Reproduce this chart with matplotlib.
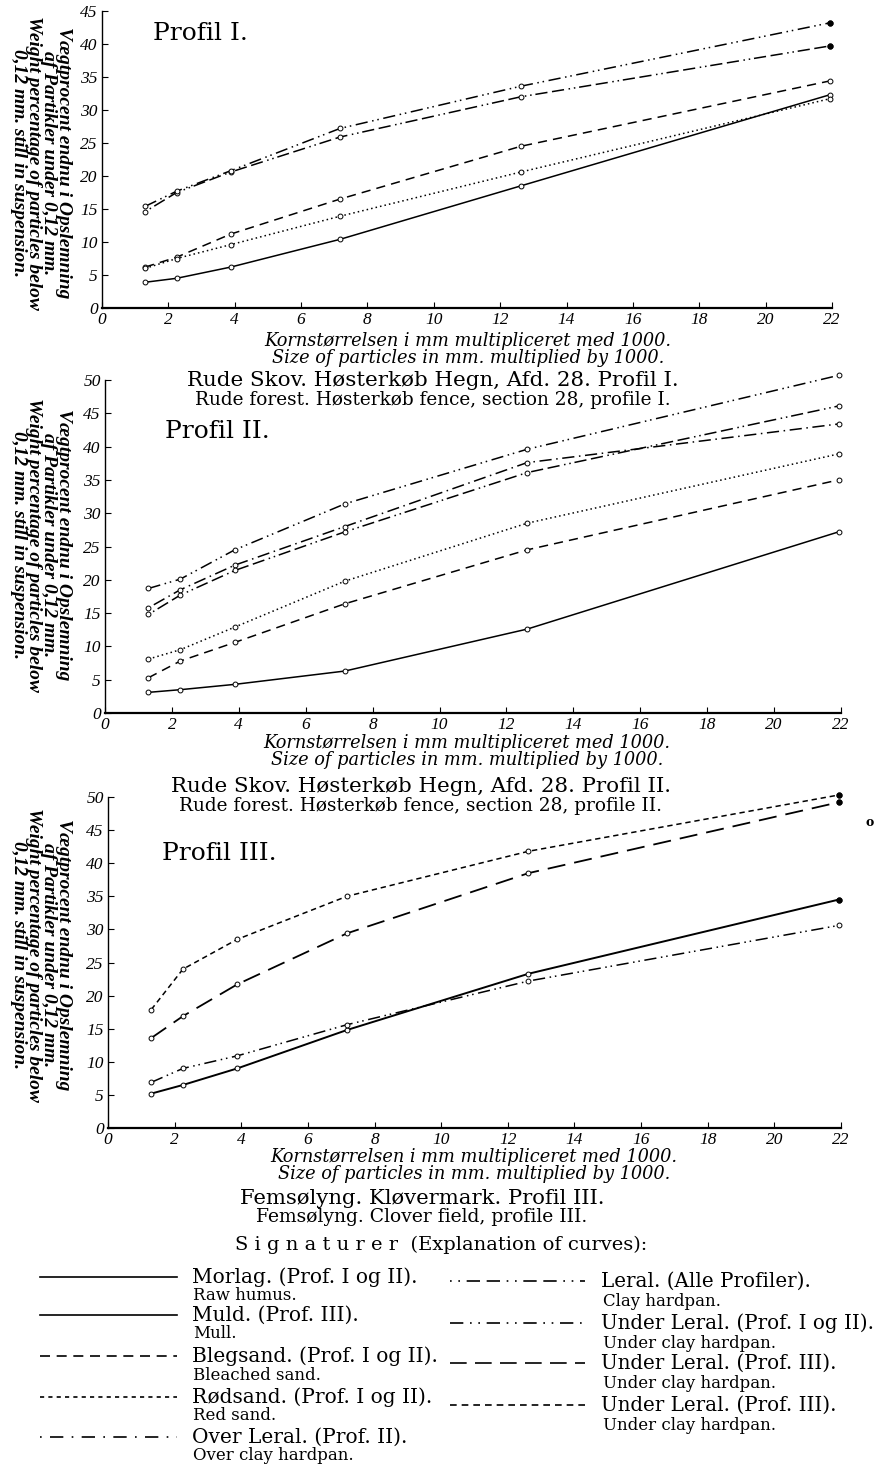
import matplotlib
matplotlib.use('Agg')
import matplotlib.pyplot as plt

plt.rcParams['font.family'] = ['DejaVu Serif']

# kornstørrelse (mm * 1000), same for all profiles
korn = [1.3, 2.25, 3.88, 7.17, 12.62, 21.93]

# Profil I
p1_morlag = [3.9, 4.5, 6.2, 10.4, 18.5, 32.3]
p1_blegsand = [6.2, 7.7, 11.2, 16.5, 24.5, 34.4]
p1_rodsand = [6.0, 7.5, 9.6, 13.9, 20.6, 31.7]
p1_leral = [14.6, 17.5, 20.6, 25.9, 32.0, 39.7]
p1_underleral = [15.4, 17.7, 20.8, 27.2, 33.6, 43.2]

# Profil II
p2_morlag = [3.1, 3.5, 4.3, 6.3, 12.6, 27.2]
p2_blegsand = [5.3, 7.8, 10.6, 16.4, 24.5, 35.0]
p2_rodsand = [8.1, 9.5, 12.9, 19.8, 28.5, 38.9]
p2_overleral = [15.8, 18.5, 22.2, 28.0, 37.6, 43.4]
p2_leral = [14.8, 17.7, 21.4, 27.2, 36.1, 46.1]
p2_underleral = [18.7, 20.1, 24.5, 31.4, 39.6, 50.7]

# Profil III
p3_muld = [5.2, 6.5, 9.0, 14.8, 23.3, 34.5]
p3_leral = [6.9, 9.0, 10.9, 15.6, 22.2, 30.6]
p3_underleral_a = [13.6, 16.9, 21.7, 29.4, 38.5, 49.2]
p3_underleral_b = [17.9, 24.0, 28.5, 35.0, 41.8, 50.3]

xticks = [0, 2, 4, 6, 8, 10, 12, 14, 16, 18, 20, 22]

# line styles
ls_solid = '-'
ls_bleg = (0, (6, 4))
ls_rod = (0, (1, 2))
ls_over = (0, (1, 3, 8, 3))
ls_leral = (0, (1, 2.5, 1, 2.5, 8, 3, 8, 3))
ls_under = (0, (8, 3, 1, 2.5, 1, 3))
ls_under3a = (0, (10, 5))
ls_under3b = (0, (3.5, 2.5))

W, H = 879, 1466
fig = plt.figure(figsize=(W / 100, H / 100), dpi=100)


def px_axes(x0, x1, y0, y1):
    # pixel of x=0, x=22, y=0 and of the top of y axis
    return fig.add_axes([x0 / W, 1 - y0 / H, (x1 - x0) / W, (y0 - y1) / H])


def style_axes(ax, ymax):
    ax.set_xlim(0, 22)
    ax.set_ylim(0, ymax)
    ax.set_xticks(xticks)
    ax.set_yticks(range(0, ymax + 1, 5))
    for s in ['top', 'right']:
        ax.spines[s].set_visible(False)
    ax.spines['left'].set_linewidth(1.0)
    ax.spines['bottom'].set_linewidth(1.6)
    ax.tick_params(direction='in', length=4, width=0.8, labelsize=12.5, pad=3)
    for lab in ax.get_xticklabels() + ax.get_yticklabels():
        lab.set_fontstyle('italic')
        lab.set_family('Liberation Serif')


def curve(ax, y, ls, lw=1.1, filled_end=False):
    ax.plot(korn, y, color='black', linestyle=ls, linewidth=lw,
            marker='o', markersize=3.5, markerfacecolor='white',
            markeredgewidth=0.7, clip_on=False)
    if filled_end:
        ax.plot(korn[-1:], y[-1:], 'o', color='black', markersize=3.5, clip_on=False)


ylab = ("Vægtprocent endnu i Opslemning\naf Partikler under 0,12 mm.\n"
        "Weight percentage of particles below\n0,12 mm. still in suspension.")


def labels(ylab_y, xl_x, xl_y, t_x, t_y, title, subtitle, t_size=15.4, s_size=13.3):
    fig.text(41 / W, 1 - ylab_y / H, ylab, rotation=270, ha='center', va='center',
             fontsize=14, style='italic', fontweight='bold', linespacing=0.85,
             family='Liberation Serif')
    fig.text(xl_x / W, 1 - xl_y / H, "Kornstørrelsen i mm multipliceret med 1000.",
             ha='center', va='center', fontsize=12.8, style='italic')
    fig.text(xl_x / W, 1 - (xl_y + 17) / H, "Size of particles in mm. multiplied by 1000.",
             ha='center', va='center', fontsize=12.8, style='italic')
    fig.text(t_x / W, 1 - t_y / H, title, ha='center', va='center', fontsize=t_size)
    fig.text(t_x / W, 1 - (t_y + 19) / H, subtitle, ha='center', va='center', fontsize=s_size)


# ---- Profil I ----
ax1 = px_axes(102, 832, 308, 11)
style_axes(ax1, 45)
curve(ax1, p1_morlag, ls_solid)
curve(ax1, p1_blegsand, ls_bleg)
curve(ax1, p1_rodsand, ls_rod)
curve(ax1, p1_leral, ls_leral, filled_end=True)
curve(ax1, p1_underleral, ls_under, filled_end=True)
labels(163, 468, 341, 433, 381,
       "Rude Skov. Høsterkøb Hegn, Afd. 28. Profil I.",
       "Rude forest. Høsterkøb fence, section 28, profile I.")

# ---- Profil II ----
ax2 = px_axes(105, 841, 713, 380)
style_axes(ax2, 50)
curve(ax2, p2_morlag, ls_solid)
curve(ax2, p2_blegsand, ls_bleg)
curve(ax2, p2_rodsand, ls_rod)
curve(ax2, p2_overleral, ls_over)
curve(ax2, p2_leral, ls_leral)
curve(ax2, p2_underleral, ls_under)
labels(545, 467, 743, 421, 787,
       "Rude Skov. Høsterkøb Hegn, Afd. 28. Profil II.",
       "Rude forest. Høsterkøb fence, section 28, profile II.")

# ---- Profil III ----
ax3 = px_axes(108, 841, 1128, 797)
style_axes(ax3, 50)
curve(ax3, p3_muld, ls_solid, lw=1.4, filled_end=True)
curve(ax3, p3_leral, ls_under)
curve(ax3, p3_underleral_a, ls_under3a, lw=1.3, filled_end=True)
curve(ax3, p3_underleral_b, ls_under3b, filled_end=True)
labels(955, 474, 1157, 422, 1198,
       "Femsølyng. Kløvermark. Profil III.",
       "Femsølyng. Clover field, profile III.", t_size=15.2, s_size=13.5)

# panel names
fig.text(153 / W, 1 - 33 / H, "Profil I.", fontsize=18, va='center')
fig.text(165 / W, 1 - 432 / H, "Profil II.", fontsize=18, va='center')
fig.text(162 / W, 1 - 854 / H, "Profil III.", fontsize=18, va='center')
fig.text(866 / W, 1 - 823 / H, "o", fontsize=9, fontweight='bold', va='center')

# ---- Signaturer ----
fig.text(441 / W, 1 - 1245 / H, "S i g n a t u r e r  (Explanation of curves):",
         ha='center', va='center', fontsize=14)

leg = fig.add_axes([0, 0, 1, 1])
leg.set_xlim(0, W)
leg.set_ylim(H, 0)
leg.axis('off')

left_items = [
    (1277, ls_solid, "Morlag. (Prof. I og II).", "Raw humus."),
    (1315, ls_solid, "Muld. (Prof. III).", "Mull."),
    (1356, (0, (6, 4)), "Blegsand. (Prof. I og II).", "Bleached sand."),
    (1397, (0, (2.5, 2.5)), "Rødsand. (Prof. I og II).", "Red sand."),
    (1437, (0, (1, 5, 8, 5)), "Over Leral. (Prof. II).", "Over clay hardpan."),
]
right_items = [
    (1281, (0, (1, 4, 1, 4, 8, 4, 8, 4)), "Leral. (Alle Profiler).", "Clay hardpan."),
    (1323, (0, (8, 4, 1, 4, 1, 4)), "Under Leral. (Prof. I og II).", "Under clay hardpan."),
    (1363, (0, (10, 5)), "Under Leral. (Prof. III).", "Under clay hardpan."),
    (1405, (0, (4, 3)), "Under Leral. (Prof. III).", "Under clay hardpan."),
]
for y, ls, main, sub in left_items:
    leg.plot([40, 177], [y, y], color='black', linestyle=ls, linewidth=1.2)
    leg.text(192, y, main, fontsize=14.5, va='center')
    leg.text(193, y + 19, sub, fontsize=12, va='center')
for y, ls, main, sub in right_items:
    leg.plot([450, 585], [y, y], color='black', linestyle=ls, linewidth=1.2)
    leg.text(601, y, main, fontsize=14.3, va='center')
    leg.text(603, y + 20, sub, fontsize=12, va='center')

fig.savefig('out.png', dpi=100)
